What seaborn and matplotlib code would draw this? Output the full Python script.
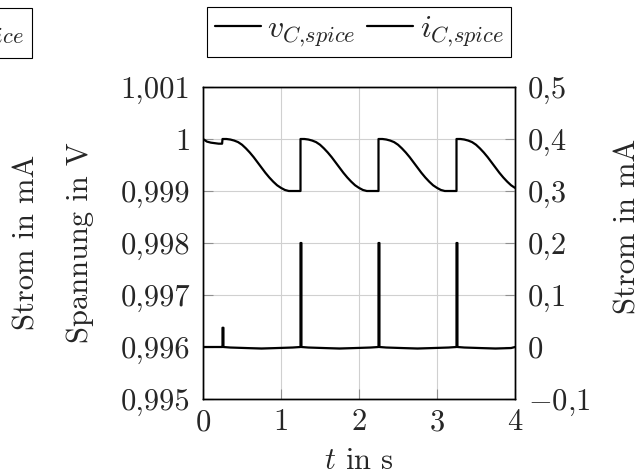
import numpy as np
import pandas as pd
import matplotlib
matplotlib.use("Agg")
import matplotlib.pyplot as plt
import seaborn as sns

# voltage at the capacitor (V): first quarter second, then one cycle that repeats each second
t_start = [0.0, 0.05, 0.10, 0.15, 0.20, 0.245]
v_start = [1.0, 0.99995, 0.99993, 0.99992, 0.99991, 0.99991]
cycle_starts = [0.25, 1.25, 2.25, 3.25]
cycle_phase = [0.0, 0.05, 0.10, 0.15, 0.20, 0.25, 0.30, 0.35, 0.40, 0.45, 0.50,
               0.55, 0.60, 0.65, 0.70, 0.75, 0.80, 0.85, 0.90, 0.95, 1.0]
cycle_v = [1.0, 1.0, 0.99999, 0.99997, 0.99994, 0.99989, 0.99982, 0.99974, 0.99965,
           0.99955, 0.99945, 0.99935, 0.99926, 0.99918, 0.99911, 0.99906, 0.99902,
           0.99900, 0.99900, 0.99900, 0.99900]

# current through the capacitor (mA): spikes at each recharge, tiny wobble in between
spike_peak = [0.037, 0.2, 0.2, 0.2]
i_phase = [0.0, 0.0, 0.012, 0.012, 0.1, 0.3, 0.5, 0.7, 0.9, 1.0]
i_shape = [0.0, 1.0, 1.0, 0.0, -0.001, -0.002, -0.003, -0.002, -0.001, 0.0]

t_end = 4.0

# tick labels
x_ticks = [0, 1, 2, 3, 4]
x_labels = ["0", "1", "2", "3", "4"]
v_ticks = [0.995, 0.996, 0.997, 0.998, 0.999, 1.0, 1.001]
v_labels = ["0,995", "0,996", "0,997", "0,998", "0,999", "1", "1,001"]
i_ticks = [-0.1, 0.0, 0.1, 0.2, 0.3, 0.4, 0.5]
i_labels = ["$-$0,1", "0", "0,1", "0,2", "0,3", "0,4", "0,5"]

# build the time series from the pieces
tv, vv = list(t_start), list(v_start)
for t0 in cycle_starts:
    for p, v in zip(cycle_phase, cycle_v):
        if t0 + p <= t_end + 1e-9:
            tv.append(t0 + p)
            vv.append(v)
df_v = pd.DataFrame({"t": tv, "v": vv})

ti, ii = [0.0, 0.24], [0.0, 0.0]
for t0, pk in zip(cycle_starts, spike_peak):
    for k, (p, s) in enumerate(zip(i_phase, i_shape)):
        if t0 + p <= t_end + 1e-9:
            ti.append(t0 + p)
            ii.append(s * pk if k in (1, 2) else s)
ti.append(t_end)
ii.append(0.0)
df_i = pd.DataFrame({"t": ti, "i": ii})

sns.set_style("ticks")
plt.rcParams["font.family"] = ["cmr10", "DejaVu Serif"]
plt.rcParams["mathtext.fontset"] = "cm"
plt.rcParams["axes.formatter.use_mathtext"] = True
plt.rcParams["font.size"] = 22

fig = plt.figure(figsize=(6.41, 4.76), dpi=100)
ax = fig.add_axes([203 / 641, 77 / 476, 312 / 641, 312 / 476])

sns.lineplot(data=df_v, x="t", y="v", ax=ax, color="black", lw=1.6,
             estimator=None, sort=False, legend=False)
ax.set_xlim(0, 4)
ax.set_ylim(0.995, 1.001)
ax.set_xticks(x_ticks)
ax.set_xticklabels(x_labels)
ax.set_yticks(v_ticks)
ax.set_yticklabels(v_labels)
ax.grid(True, color="#d0d0d0", lw=0.8)
ax.tick_params(direction="in", length=7, width=0.8, color="#909090", labelsize=22)
ax.tick_params(axis="y", pad=9)
ax.tick_params(axis="x", pad=7)
ax.set_xlabel("$t$ in s", fontsize=22, labelpad=8)
ax.set_ylabel("Spannung in V", fontsize=22, va="baseline")
ax.yaxis.set_label_coords((88 - 203) / 312, 0.5)

ax2 = ax.twinx()
sns.lineplot(data=df_i, x="t", y="i", ax=ax2, color="black", lw=1.6,
             estimator=None, sort=False, legend=False)
ax2.set_ylim(-0.1, 0.5)
ax2.set_yticks(i_ticks)
ax2.set_yticklabels(i_labels)
ax2.set_ylabel("")
ax2.tick_params(direction="in", length=7, width=0.8, color="#909090", labelsize=22, pad=9)

for a in (ax, ax2):
    for s in a.spines.values():
        s.set_color("black")
        s.set_linewidth(1.0)

handles = [ax.lines[0], ax2.lines[0]]
names = ["$v_{C{,}spice}$", "$i_{C{,}spice}$"]
leg_kw = dict(ncol=2, fontsize=23, handlelength=1.45, handletextpad=0.2,
              columnspacing=0.35, borderpad=0.25, borderaxespad=0, fancybox=False,
              framealpha=1, edgecolor="black")
leg = fig.legend(handles, names, loc="upper center",
                 bbox_to_anchor=(359 / 641, 1 - 7 / 476), **leg_kw)
leg.get_frame().set_linewidth(0.8)
leg2 = fig.legend(handles, names, loc="upper right",
                  bbox_to_anchor=(32 / 641, 1 - 8 / 476), **leg_kw)
leg2.get_frame().set_linewidth(0.8)

# axis labels of the neighbouring plots that show at the edges
fig.text(35 / 641, 1 - 242 / 476, "Strom in mA", rotation=90, rotation_mode="anchor",
         ha="center", va="baseline", fontsize=22)
fig.text(635 / 641, 1 - 226 / 476, "Strom in mA", rotation=90, rotation_mode="anchor",
         ha="center", va="baseline", fontsize=22)

fig.savefig("out.png", dpi=100)
